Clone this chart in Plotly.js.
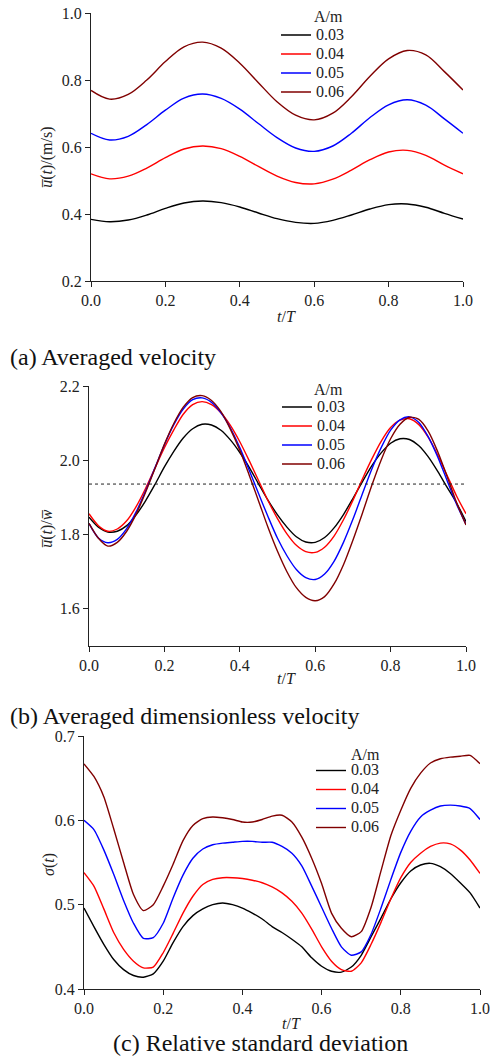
<!DOCTYPE html>
<html><head><meta charset="utf-8">
<script src="https://cdn.plot.ly/plotly-3.0.1.min.js"></script>
<style>html,body{margin:0;padding:0;background:#fff;}#chart{width:490px;height:1059px;}</style>
</head><body><div id="chart"></div>
<script>
// ---------- data ----------
const amplitudes = ['0.03', '0.04', '0.05', '0.06'];

// (a) averaged velocity, t/T in steps of 0.05
const tA = [0, 0.05, 0.1, 0.15, 0.2, 0.25, 0.3, 0.35, 0.4, 0.45, 0.5, 0.55, 0.6, 0.65, 0.7, 0.75, 0.8, 0.85, 0.9, 0.95, 1.0];
const velA003 = [0.384,0.377,0.382,0.397,0.417,0.433,0.439,0.434,0.421,0.403,0.386,0.375,0.372,0.381,0.397,0.415,0.428,0.430,0.420,0.402,0.385];
const velA004 = [0.520,0.505,0.513,0.537,0.568,0.594,0.603,0.595,0.572,0.542,0.513,0.494,0.490,0.504,0.531,0.562,0.585,0.590,0.575,0.546,0.520];
const velA005 = [0.641,0.621,0.632,0.667,0.710,0.746,0.758,0.745,0.713,0.670,0.628,0.597,0.587,0.603,0.641,0.688,0.726,0.741,0.725,0.684,0.641];
const velA006 = [0.769,0.743,0.757,0.800,0.855,0.899,0.913,0.895,0.850,0.792,0.735,0.695,0.681,0.701,0.750,0.811,0.863,0.888,0.875,0.825,0.770];

// (b) and (c), t/T in steps of 0.025
const tB = [0,0.025,0.05,0.075,0.1,0.125,0.15,0.175,0.2,0.225,0.25,0.275,0.3,0.325,0.35,0.375,0.4,0.425,0.45,0.475,0.5,0.525,0.55,0.575,0.6,0.625,0.65,0.675,0.7,0.725,0.75,0.775,0.8,0.825,0.85,0.875,0.9,0.925,0.95,0.975,1.0];
const dimB003 = [1.847,1.820,1.807,1.809,1.824,1.853,1.891,1.935,1.982,2.024,2.060,2.085,2.097,2.095,2.081,2.055,2.021,1.981,1.936,1.892,1.853,1.820,1.794,1.780,1.779,1.792,1.818,1.854,1.897,1.942,1.985,2.020,2.046,2.058,2.056,2.039,2.009,1.970,1.927,1.885,1.835];
const dimB004 = [1.856,1.824,1.809,1.815,1.837,1.875,1.924,1.979,2.034,2.082,2.124,2.150,2.158,2.150,2.128,2.094,2.050,1.999,1.945,1.891,1.843,1.802,1.771,1.754,1.752,1.766,1.796,1.840,1.892,1.949,2.003,2.051,2.088,2.108,2.112,2.096,2.062,2.014,1.959,1.904,1.856];
const dimB005 = [1.830,1.791,1.778,1.787,1.816,1.861,1.917,1.980,2.042,2.096,2.138,2.163,2.168,2.156,2.128,2.087,2.034,1.973,1.910,1.848,1.790,1.743,1.706,1.684,1.679,1.694,1.728,1.779,1.841,1.909,1.976,2.034,2.081,2.109,2.117,2.102,2.063,2.009,1.945,1.882,1.827];
const dimB006 = [1.830,1.790,1.769,1.779,1.809,1.855,1.914,1.978,2.043,2.099,2.143,2.169,2.174,2.161,2.131,2.084,2.027,1.960,1.890,1.819,1.755,1.700,1.657,1.631,1.622,1.633,1.667,1.719,1.785,1.857,1.932,2.001,2.058,2.097,2.116,2.110,2.078,2.023,1.956,1.886,1.826];
const dimMean = 1.936;

const sigC003 = [0.496,0.474,0.453,0.435,0.423,0.416,0.414,0.418,0.433,0.455,0.474,0.487,0.495,0.500,0.502,0.500,0.496,0.490,0.483,0.474,0.467,0.459,0.450,0.437,0.427,0.421,0.420,0.426,0.440,0.462,0.484,0.507,0.526,0.540,0.547,0.549,0.545,0.537,0.526,0.514,0.496];
const sigC004 = [0.538,0.522,0.495,0.467,0.447,0.433,0.425,0.426,0.443,0.466,0.490,0.510,0.524,0.530,0.532,0.532,0.531,0.529,0.526,0.521,0.514,0.504,0.490,0.471,0.450,0.433,0.423,0.421,0.431,0.453,0.479,0.507,0.532,0.550,0.561,0.569,0.573,0.572,0.565,0.553,0.537];
const sigC005 = [0.600,0.589,0.565,0.536,0.505,0.478,0.460,0.461,0.478,0.508,0.535,0.555,0.566,0.571,0.573,0.574,0.575,0.575,0.574,0.574,0.569,0.561,0.546,0.522,0.497,0.472,0.450,0.440,0.444,0.465,0.496,0.530,0.562,0.587,0.604,0.612,0.617,0.618,0.617,0.614,0.601];
const sigC006 = [0.667,0.652,0.628,0.590,0.550,0.512,0.493,0.500,0.522,0.548,0.576,0.594,0.602,0.604,0.603,0.601,0.598,0.598,0.601,0.605,0.606,0.598,0.580,0.555,0.525,0.490,0.472,0.462,0.468,0.497,0.540,0.582,0.612,0.638,0.656,0.668,0.673,0.675,0.676,0.677,0.667];

// ---------- styling / layout ----------
const W = 490, H = 1059;
const FONT = '"Liberation Serif", Tinos, "Times New Roman", Times, serif';
const lineColors = ['#000000', '#ff0000', '#0000ff', '#800000'];
const px = v => v / W, py = v => 1 - v / H;

const traces = [];
function addGroup(x, ys, xa, ya, legendId, smooth) {
  ys.forEach((y, i) => {
    traces.push({
      type: 'scatter', mode: 'lines', x: x, y: y, xaxis: xa, yaxis: ya,
      name: '<span style="font-size:16px">' + amplitudes[i] + '</span>',
      legend: legendId,
      line: {color: lineColors[i], width: 1.4, shape: 'spline', smoothing: smooth},
      hoverinfo: 'skip'
    });
  });
}
addGroup(tA, [velA003, velA004, velA005, velA006], 'x', 'y', 'legend', 1.0);
addGroup(tB, [dimB003, dimB004, dimB005, dimB006], 'x2', 'y2', 'legend2', 0.8);
traces.push({type:'scatter', mode:'lines', x:[tB[0], tB[tB.length-1]], y:[dimMean, dimMean], xaxis:'x2', yaxis:'y2',
  showlegend:false, line:{color:'#222', width:1, dash:'dot'}, hoverinfo:'skip'});
addGroup(tB, [sigC003, sigC004, sigC005, sigC006], 'x3', 'y3', 'legend3', 0.6);

const axBase = {showline:true, linecolor:'#222', linewidth:1, ticks:'outside', ticklen:5, tickwidth:1,
  tickcolor:'#222', showgrid:false, zeroline:false, mirror:false, fixedrange:true,
  tickfont:{family:FONT, size:16, color:'#222'}, tickformat:'.1f'};

const legBase = {xanchor:'left', yanchor:'top', bgcolor:'rgba(0,0,0,0)', borderwidth:0,
  font:{family:FONT, size:12, color:'#222'}, itemwidth:30, tracegroupgap:0};

function ann(text, x, y, extra) {
  return Object.assign({text:text, x:px(x), y:py(y), xref:'paper', yref:'paper', showarrow:false,
    xanchor:'center', yanchor:'middle', font:{family:FONT, size:16, color:'#222'}}, extra || {});
}
const ubar = '<i>u\u0305</i>';
const layout = {
  width: W, height: H, margin:{l:0, r:0, t:0, b:0}, paper_bgcolor:'#fff', plot_bgcolor:'#fff',
  showlegend: true, font:{family:FONT},
  xaxis: Object.assign({}, axBase, {domain:[px(91), px(463)], range:[0,1], dtick:0.2, anchor:'y'}),
  yaxis: Object.assign({}, axBase, {domain:[py(281), py(13)], range:[0.2,1.0], dtick:0.2, anchor:'x'}),
  xaxis2: Object.assign({}, axBase, {domain:[px(89), px(466)], range:[0,1], dtick:0.2, anchor:'y2'}),
  yaxis2: Object.assign({}, axBase, {domain:[py(646), py(386)], range:[1.5,2.2], tickvals:[1.6,1.8,2.0,2.2], anchor:'x2'}),
  xaxis3: Object.assign({}, axBase, {domain:[px(84), px(480)], range:[0,1], dtick:0.2, anchor:'y3'}),
  yaxis3: Object.assign({}, axBase, {domain:[py(989), py(736)], range:[0.4,0.7], dtick:0.1, anchor:'x3'}),
  legend: Object.assign({}, legBase, {x:px(276), y:py(20.5)}),
  legend2: Object.assign({}, legBase, {x:px(277), y:py(392.5)}),
  legend3: Object.assign({}, legBase, {x:px(311), y:py(756)}),
  annotations: [
    ann('A/m', 328, 16),
    ann('A/m', 328, 389),
    ann('A/m', 365, 754),
    ann(ubar + '(<i>t</i>)/(m/s)', 47, 157, {textangle:-90}),
    ann(ubar + '(<i>t</i>)/<i>w\u0305</i>', 47, 529, {textangle:-90}),
    ann('<i>\u03c3</i>(<i>t</i>)', 49, 865, {textangle:-90}),
    ann('<i>t</i>/<i>T</i>', 286, 316),
    ann('<i>t</i>/<i>T</i>', 286, 678),
    ann('<i>t</i>/<i>T</i>', 291, 1023),
    ann('(a) Averaged velocity', 8, 357, {xanchor:'left', font:{family:FONT, size:24, color:'#111'}}),
    ann('(b) Averaged dimensionless velocity', 8, 716, {xanchor:'left', font:{family:FONT, size:24, color:'#111'}}),
    ann('(c) Relative standard deviation', 260, 1043, {font:{family:FONT, size:24, color:'#111'}})
  ]
};
Plotly.newPlot('chart', traces, layout, {displayModeBar:false, staticPlot:true});
</script></body></html>
